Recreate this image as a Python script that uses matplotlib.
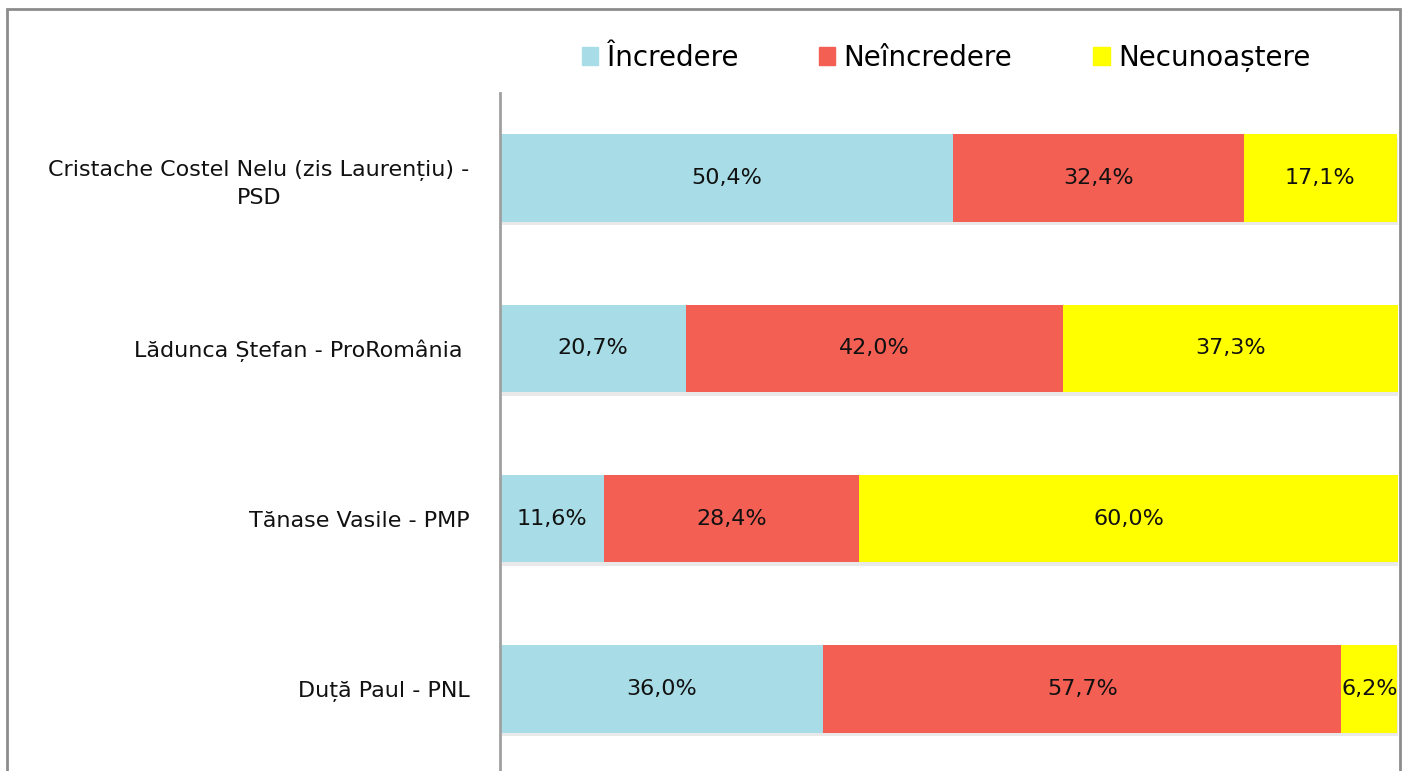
import matplotlib
matplotlib.use('Agg')
import matplotlib.pyplot as plt
from matplotlib.patches import Rectangle, Patch
import matplotlib.patheffects as pe
from matplotlib import rcParams
import numpy as np

rcParams.update({"font.family": ['DejaVu Sans']})

categories = ['Cristache Costel Nelu (zis Laurențiu) -\nPSD',
              'Lădunca Ștefan - ProRomânia ',
              'Tănase Vasile - PMP',
              'Duță Paul - PNL']
incredere = [50.4, 20.7, 11.6, 36.0]
neincredere = [32.4, 42.0, 28.4, 57.7]
necunoastere = [17.1, 37.3, 60.0, 6.2]
series_names = ['Încredere', 'Neîncredere', 'Necunoaștere']
colors = ['#A8DDE8', '#F45F54', '#FFFF00']

W, H = 1404, 771
fig = plt.figure(figsize=(W / 100, H / 100), dpi=100)

# gray frame around the chart area (bottom edge is cut off in the original)
fig.patches.append(Rectangle((7 / W, -0.05), (1399.5 - 7) / W, 1.05 - 9 / H,
                             transform=fig.transFigure, fill=False,
                             edgecolor='#8c8c8c', linewidth=2))

ax = fig.add_axes([500 / W, -3 / H, (1398 - 500) / W, (H - 93 + 3) / H])

shadow = [pe.SimplePatchShadow(offset=(1.5, -2.5), shadow_rgbFace='#aaaaaa', alpha=0.25), pe.Normal()]

y = np.arange(len(categories))
left = np.zeros(len(categories))
for vals, name, col in zip([incredere, neincredere, necunoastere], series_names, colors):
    vals = np.array(vals)
    bars = ax.barh(y, vals, left=left, height=0.515, color=col, label=name)
    for b in bars:
        b.set_path_effects(shadow)
    for yi, l, v in zip(y, left, vals):
        ax.text(l + v / 2, yi, f'{v:.1f}%'.replace('.', ','), ha='center', va='center',
                fontsize=16, color='#111111')
    left = left + vals

ax.set_xlim(0, 100)
ax.set_ylim(3.5, -0.5)
ax.set_yticks(y)
ax.set_yticklabels(categories, fontsize=16, multialignment='center', color='#111111',
                   linespacing=1.45)
ax.tick_params(axis='y', length=0, pad=22)
ax.set_xticks([])
for s in ['top', 'right', 'bottom']:
    ax.spines[s].set_visible(False)
ax.spines['left'].set_color('#a0a0a0')
ax.spines['left'].set_linewidth(2)

handles = [Patch(color=c) for c in colors]
fig.legend(handles, series_names, loc='center', bbox_to_anchor=(946 / W, 1 - 58 / H),
           ncol=3, frameon=False, fontsize=20, handlelength=0.6, handleheight=0.6,
           handletextpad=0.3, columnspacing=2.9)

fig.savefig('out.png', dpi=100)
